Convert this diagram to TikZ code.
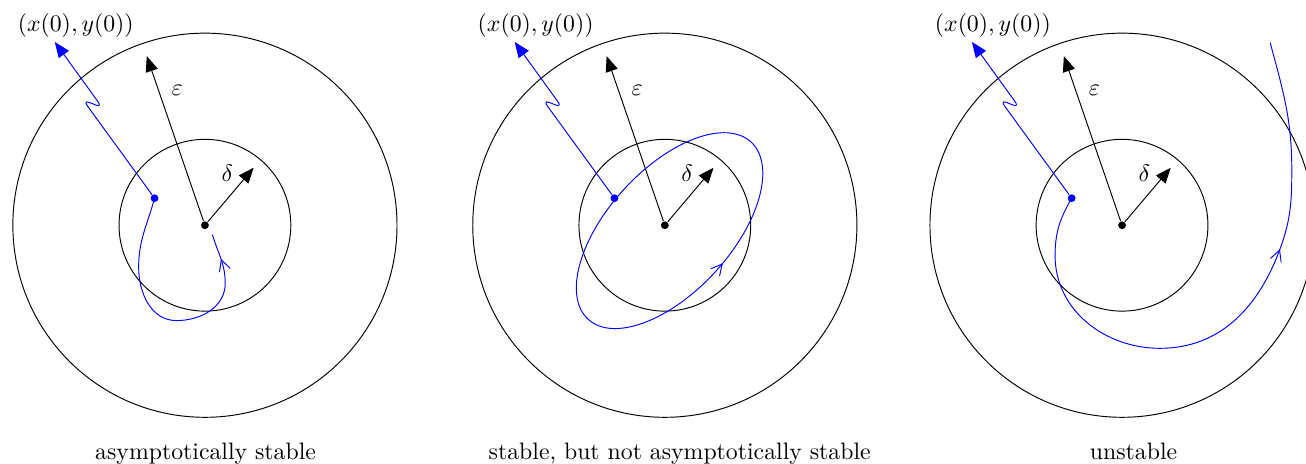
\documentclass[tikz,border=0pt]{standalone}
\usetikzlibrary{arrows.meta,decorations.markings}

\definecolor{trajblue}{RGB}{0,0,255}

\begin{document}
\begin{tikzpicture}[
    bigtip/.style={-{Triangle[length=6.5pt,width=5.2pt]}},
    statedot/.style={circle, fill, inner sep=0pt, minimum size=3.3pt},
    flowarrow/.style={postaction={decorate}, decoration={markings,
        mark=at position #1 with {\arrow{Straight Barb[length=4.6pt,width=4.8pt]}}}}
  ]

  \useasboundingbox (-3.03,-3.53) rectangle (16.28,3.33);

  % what the three panels share: the two discs, the radii, the initial state
  \foreach \i/\sx/\cx/\desc in {1/0/0.01/asymptotically stable,
      2/6.80/0.22/{stable, but not asymptotically stable},
      3/13.56/0.17/unstable} {
    \begin{scope}[xshift=\sx cm]
      \draw (0,0) circle (2.84);
      \draw (0,0) circle (1.27);
      \node[statedot] (o\i) at (0,0) {};

      % epsilon and delta radii
      \coordinate (etip\i) at (-0.86,2.50);
      \coordinate (dtip\i) at (0.72,0.85);
      \draw[bigtip] (o\i) -- (etip\i);
      \draw[bigtip] (o\i) -- (dtip\i);
      \node (eps\i) at (-0.41,2.00) {$\varepsilon$};
      \node (del\i) at (0.33,0.77) {$\delta$};

      % initial state, with a break in its leader
      \node[trajblue, statedot] (x0\i) at (-0.745,0.40) {};
      \coordinate (far\i) at (-2.22,2.71);
      \draw[trajblue, bigtip] (x0\i) -- (-1.726,1.748)
        .. controls (-1.882,1.964) and (-1.437,1.628) .. (-1.594,1.844) -- (far\i);
      \node[anchor=base] (lab\i) at (-1.91,2.87) {$(x(0),y(0))$};

      \node[anchor=base] (cap\i) at (\cx,-3.46) {\desc};
    \end{scope}
  }

  % asymptotically stable: the path winds back to the centre
  \draw[trajblue, flowarrow=-0.38cm] (x01.center)
    to[out=-105, in=90] (-0.98,-0.62) to[out=-90, in=180] (-0.42,-1.41)
    to[out=0, in=-90] (0.30,-0.86) to[out=90, in=-73] (0.11,-0.14);

  % stable only: a closed orbit that stays inside epsilon
  \begin{scope}[xshift=6.80cm]
    \coordinate (orbit) at (0.07,-0.08);
    \draw[trajblue, flowarrow=-1.99cm, rotate around={47.4:(orbit)}]
      (orbit) ellipse (1.78 and 0.91);
  \end{scope}

  % unstable: the path leaves the epsilon disc
  \begin{scope}[xshift=13.56cm]
    \draw[trajblue, flowarrow=-3.11cm] (x03.center)
      to[out=-120, in=90] (-0.99,-0.45) to[out=-90, in=180] (0.56,-1.82)
      to[out=0, in=-110] (2.34,-0.34) to[out=70, in=-90] (2.51,0.82)
      to[out=90, in=-75] (2.19,2.70);
  \end{scope}

\end{tikzpicture}
\end{document}
